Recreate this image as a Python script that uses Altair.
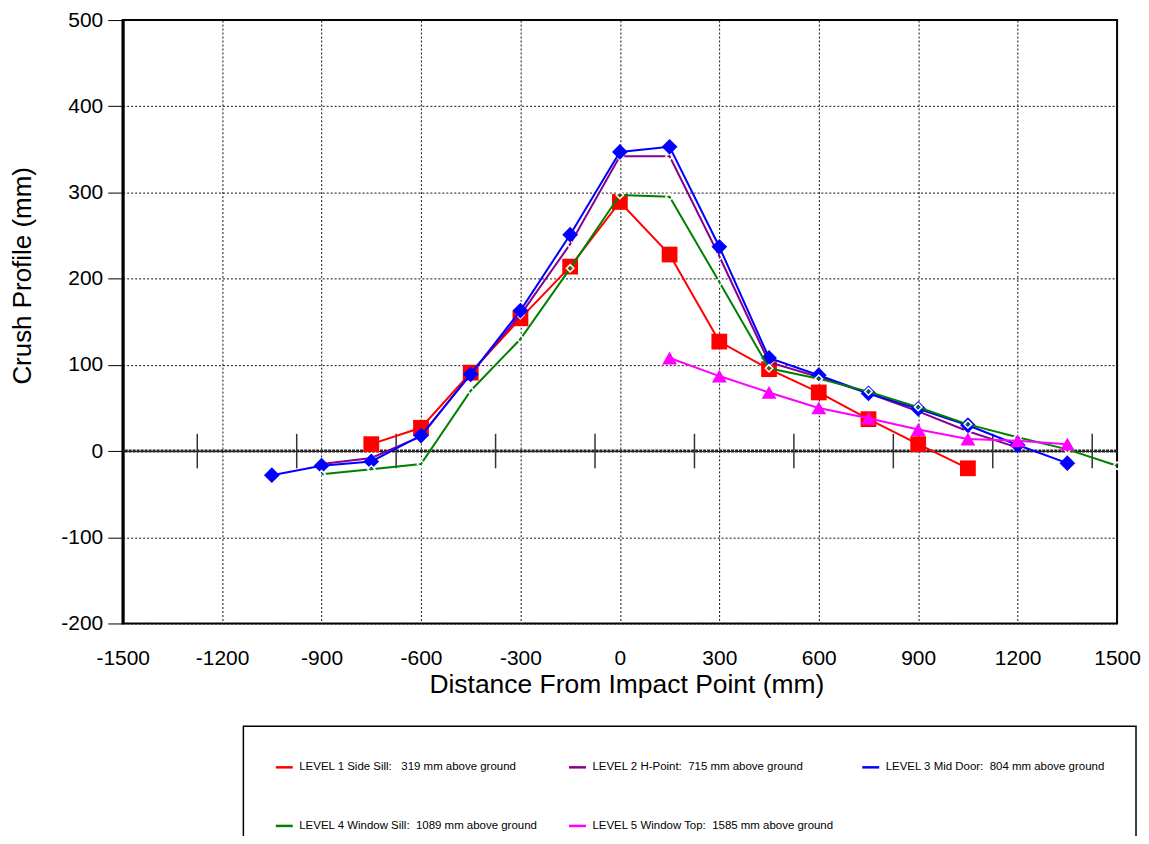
import altair as alt
import pandas as pd

# ---- data ----
series_names = [
    "LEVEL 1 Side Sill:\u00a0\u00a0 319 mm above ground",
    "LEVEL 2 H-Point:\u00a0 715 mm above ground",
    "LEVEL 3 Mid Door:\u00a0 804 mm above ground",
    "LEVEL 4 Window Sill:\u00a0 1089 mm above ground",
    "LEVEL 5 Window Top:\u00a0 1585 mm above ground",
]
series_colors = ["#ff0000", "#8b008b", "#0000ff", "#008000", "#ff00ff"]
# legend fills column by column: order so rows read L1 L2 L3 / L4 L5
legend_order = [0, 3, 1, 4, 2]

x_l1 = [-750, -600, -450, -300, -150, 0, 150, 300, 450, 600, 750, 900, 1050]
y_l1 = [8, 27, 91, 154, 214, 289, 228, 127, 95, 68, 37, 8, -20]

x_l2 = [-900, -750, -600, -450, -300, -150, 0, 150, 300, 450, 600, 750, 900, 1050, 1200]
y_l2 = [-15, -8, 17, 90, 158, 240, 342, 342, 226, 103, 86, 67, 46, 23, 4]

x_l3 = [-1050, -900, -750, -600, -450, -300, -150, 0, 150, 300, 450, 600, 750, 900, 1050, 1200, 1350]
y_l3 = [-28, -17, -12, 18, 89, 163, 251, 347, 353, 237, 108, 88, 67, 49, 30, 7, -14]

x_l4 = [-900, -750, -600, -450, -300, -150, 0, 150, 300, 450, 600, 750, 900, 1050, 1200, 1350, 1500]
y_l4 = [-27, -21, -15, 70, 130, 212, 297, 295, 196, 96, 84, 69, 51, 31, 16, 2, -17]

x_l5 = [150, 300, 450, 600, 750, 900, 1050, 1200, 1350]
y_l5 = [108, 87, 68, 50, 38, 25, 14, 12, 8]

x_ticks = [-1500, -1200, -900, -600, -300, 0, 300, 600, 900, 1200, 1500]
y_ticks = [-200, -100, 0, 100, 200, 300, 400, 500]
zero_line_marks = [-1275, -975, -675, -375, -75, 225, 525, 825, 1125, 1425]
zero_mark_half = 20

xs = [x_l1, x_l2, x_l3, x_l4, x_l5]
ys = [y_l1, y_l2, y_l3, y_l4, y_l5]

frames = []
for name, xv, yv in zip(series_names, xs, ys):
    frames.append(pd.DataFrame({"x": xv, "y": yv, "series": name}))

FONT = "Liberation Sans"
LABEL_EXPR = "'' + datum.value"

xscale = alt.Scale(domain=[-1500, 1500], nice=False, zero=False)
yscale = alt.Scale(domain=[-200, 500], nice=False, zero=False)
cscale = alt.Scale(domain=[series_names[i] for i in legend_order],
                   range=[series_colors[i] for i in legend_order])

xenc = alt.X("x:Q", scale=xscale,
             axis=alt.Axis(values=x_ticks, title="Distance From Impact Point (mm)",
                           labelExpr=LABEL_EXPR, labelFlush=False,
                           grid=True, gridDash=[2, 2], gridColor="#111", gridWidth=1,
                           ticks=False, domain=False, labelPadding=24,
                           labelFontSize=21, labelFont=FONT, labelColor="black",
                           titleFont=FONT, titleFontSize=26.5, titleFontWeight="normal",
                           titleColor="black", titleX=505, titleY=61,
                           titleBaseline="middle", titleAlign="center"))
yenc = alt.Y("y:Q", scale=yscale,
             axis=alt.Axis(values=y_ticks, title="Crush Profile (mm)",
                           labelExpr=LABEL_EXPR, labelFlush=False,
                           grid=True, gridDash=[2, 2], gridColor="#111", gridWidth=1,
                           ticks=True, tickSize=15, tickColor="black", tickWidth=1,
                           domain=True, domainColor="black", domainWidth=3,
                           labelPadding=5, labelFontSize=21, labelFont=FONT,
                           labelColor="black", titleFont=FONT, titleFontSize=26,
                           titleFontWeight="normal", titleColor="black",
                           titleX=-100, titleY=256, titleAngle=270,
                           titleBaseline="middle", titleAlign="center"))

layers = []

# zero line and its tick marks
zero_df = pd.DataFrame({"y": [0]})
layers.append(alt.Chart(zero_df).mark_rule(color="#222", strokeWidth=3, strokeDash=[3, 1]).encode(
    y=alt.Y("y:Q", scale=yscale)))
marks_df = pd.DataFrame({"x": zero_line_marks,
                         "y1": [-zero_mark_half] * len(zero_line_marks),
                         "y2": [zero_mark_half] * len(zero_line_marks)})
layers.append(alt.Chart(marks_df).mark_rule(color="#333", strokeWidth=1.5).encode(
    x=alt.X("x:Q", scale=xscale), y=alt.Y("y1:Q", scale=yscale), y2="y2:Q"))

legend = alt.Legend(
    title=None, orient="none", legendX=121, legendY=708, columns=3,
    symbolType="stroke", symbolSize=289, symbolStrokeWidth=2.5,
    labelFont=FONT, labelFontSize=11.5, labelColor="black", labelLimit=0,
    labelOffset=5, strokeColor="black", fillColor="white",
    padding=31, rowPadding=43, columnPadding=22, gridAlign="all",
)

marker_specs = [
    dict(shape="square", size=250, filled=True, fill="#ff0000", stroke=None),
    dict(shape="diamond", size=55, filled=False, fill=None, stroke="white"),
    dict(shape="diamond", size=250, filled=True, fill="#0000ff", stroke=None),
    dict(shape="diamond", size=55, filled=False, fill=None, stroke="white"),
    dict(shape="triangle-up", size=220, filled=True, fill="#ff00ff", stroke=None),
]

for i, (df, spec) in enumerate(zip(frames, marker_specs)):
    line = alt.Chart(df).mark_line(strokeWidth=2).encode(
        x=xenc if i == 0 else alt.X("x:Q", scale=xscale),
        y=yenc if i == 0 else alt.Y("y:Q", scale=yscale),
        color=alt.Color("series:N", scale=cscale, legend=legend if i == 0 else None),
        order="x:Q",
    )
    kw = dict(shape=spec["shape"], size=spec["size"], filled=spec["filled"], opacity=1)
    if spec["filled"]:
        kw["fill"] = spec["fill"]
        kw["strokeWidth"] = 0
    else:
        kw["stroke"] = spec["stroke"]
        kw["strokeWidth"] = 1.5
    pts = alt.Chart(df).mark_point(**kw).encode(
        x=alt.X("x:Q", scale=xscale), y=alt.Y("y:Q", scale=yscale))
    layers += [line, pts]

chart = alt.layer(*layers).properties(
    width=997, height=605,
    autosize=alt.AutoSizeParams(type="none"),
    padding={"left": 115, "top": 11, "right": 24, "bottom": 212},
    background="white",
).configure_view(stroke="black", strokeWidth=2).configure_legend(strokeWidth=1.5)

chart.save("out.html", embed_options={"renderer": "svg", "actions": False})
